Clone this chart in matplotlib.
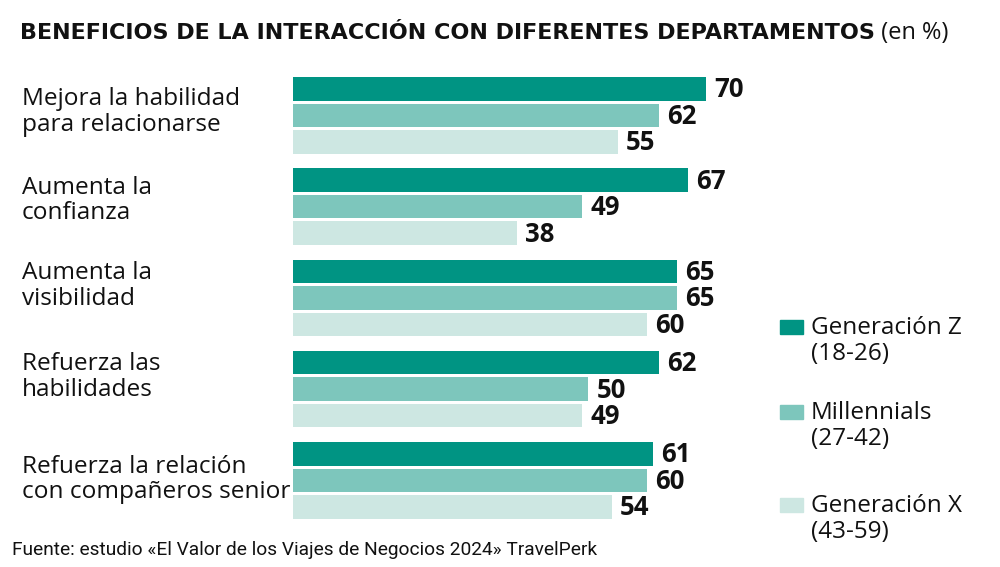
import matplotlib.pyplot as plt
from matplotlib.patches import Rectangle
from matplotlib import transforms

plt.rcParams['font.family'] = ['Open Sans', 'DejaVu Sans']

# Data
categories = [
    'Mejora la habilidad\npara relacionarse',
    'Aumenta la\nconfianza',
    'Aumenta la\nvisibilidad',
    'Refuerza las\nhabilidades',
    'Refuerza la relación\ncon compañeros senior',
]
gen_z = [70, 67, 65, 62, 61]
millennials = [62, 49, 65, 50, 60]
gen_x = [55, 38, 60, 49, 54]
series_names = ['Generación Z\n(18-26)', 'Millennials\n(27-42)', 'Generación X\n(43-59)']
colors = ['#009483', '#7dc6bc', '#cde7e2']

# Layout in pixels (figure is 1000 x 567)
W, H = 1000, 567
x0 = 293          # bar start
px_per_unit = 5.9
group_top = 77
group_pitch = 91.3
bar_pitch = 26.5
bar_h = 23.5
label_shift = [-3, -6, -12, -12, -1]

fig = plt.figure(figsize=(W / 100, H / 100), dpi=100)
ax = fig.add_axes([0, 0, 1, 1])
ax.set_xlim(-x0 / px_per_unit, (W - x0) / px_per_unit)
ax.set_ylim(H, 0)
ax.axis('off')

series = [gen_z, millennials, gen_x]
for j, vals in enumerate(series):
    ys = [group_top + i * group_pitch + j * bar_pitch + bar_h / 2 for i in range(len(vals))]
    ax.barh(ys, vals, height=bar_h, color=colors[j], edgecolor='none')
    for y, v in zip(ys, vals):
        ax.text(v + 1.4, y + 1, str(v), va='center', ha='left',
                fontsize=18.5, fontweight='bold', color='#111111')

# Category labels
trans = transforms.blended_transform_factory(fig.transFigure, ax.transData)
for i, cat in enumerate(categories):
    yc = group_top + i * group_pitch + (2 * bar_pitch + bar_h) / 2 + label_shift[i]
    ax.text(22 / W, yc, cat, transform=trans, va='center', ha='left',
            fontsize=17.6, color='#111111', linespacing=1.1)

# Title
t = fig.text(20 / W, 1 - 33 / H, 'BENEFICIOS DE LA INTERACCIÓN CON DIFERENTES DEPARTAMENTOS',
             fontsize=16, fontweight='bold', va='center', ha='left', color='#111111',
             family='DejaVu Sans')
ax.annotate(' (en %)', xy=(1, 0.5), xycoords=t, va='center', ha='left',
            fontsize=17, color='#111111')

# Legend
legend_y = [327, 412, 505]
for name, c, ly in zip(series_names, colors, legend_y):
    fig.patches.append(Rectangle((780 / W, 1 - (ly + 7) / H), 23 / W, 14 / H,
                                 transform=fig.transFigure, color=c, figure=fig))
    fig.text(811 / W, 1 - (ly + 14) / H, name, va='center', ha='left',
             fontsize=17.5, color='#111111', linespacing=1.1)

# Source
fig.text(12 / W, 1 - 550 / H,
         'Fuente: estudio «El Valor de los Viajes de Negocios 2024» TravelPerk',
         fontsize=13.8, va='center', ha='left', color='#111111', family='Roboto')

fig.savefig('out.png', dpi=100, facecolor='white')
